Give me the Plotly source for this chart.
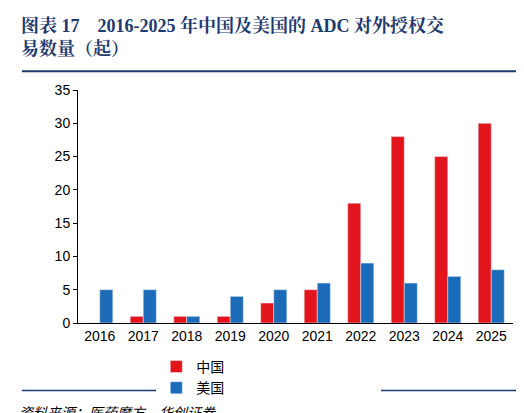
import plotly.graph_objects as go

years = ["2016","2017","2018","2019","2020","2021","2022","2023","2024","2025"]
china = [0,1,1,1,3,5,18,28,25,30]
usa = [5,5,1,4,5,6,9,6,7,8]

fig = go.Figure()
fig.add_bar(x=years, y=china, name="中国", marker_color="#E3151C", width=0.3)
fig.add_bar(x=years, y=usa, name="美国", marker_color="#1C6BB8", width=0.3)
fig.update_layout(
    width=524, height=413, barmode="group", bargap=0.4, bargroupgap=0,
    plot_bgcolor="white", paper_bgcolor="white",
    margin=dict(l=70, r=19, t=82, b=98),
    font=dict(family="Liberation Sans, Noto Sans CJK SC", size=14, color="black"),
    showlegend=True,
    legend=dict(orientation="h", x=0.18, xanchor="left", y=-0.12, yanchor="top",
                font=dict(size=14), entrywidth=180, entrywidthmode="pixels"),
    xaxis=dict(showline=True, linecolor="black", ticks="", tickfont=dict(size=14)),
    yaxis=dict(range=[0,35], dtick=5, showline=True, linecolor="black", ticks="outside",
               ticklen=4, tickcolor="black", showgrid=False, tickfont=dict(size=14)),
    shapes=[
        dict(type="line", xref="paper", yref="paper", x0=-0.129, x1=1.025, y0=1.08, y1=1.08,
             line=dict(color="#1F3A6E", width=2)),
        dict(type="line", xref="paper", yref="paper", x0=-0.129, x1=1.025, y0=-0.29, y1=-0.29,
             line=dict(color="#1F3A6E", width=1.5)),
    ],
    annotations=[
        dict(text="<b>图表 17    2016-2025 年中国及美国的 ADC 对外授权交<br>易数量（起）</b>",
             xref="paper", yref="paper", x=-0.135, y=1.33, xanchor="left", yanchor="top",
             align="left", showarrow=False,
             font=dict(family="Liberation Serif, Noto Serif CJK SC, Noto Sans CJK SC", size=18, color="#1F3A6E")),
        dict(text="<i>资料来源：医药魔方，华创证券</i>", xref="paper", yref="paper",
             x=-0.14, y=-0.33, xanchor="left", yanchor="top", showarrow=False,
             font=dict(size=14, color="black", family="Noto Sans CJK SC")),
    ],
)
fig.write_html("out.html")
